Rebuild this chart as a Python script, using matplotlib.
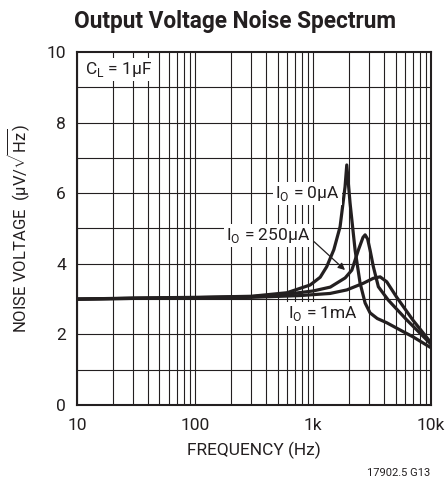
import matplotlib
matplotlib.use('Agg')
import matplotlib.pyplot as plt
import numpy as np

plt.rcParams['font.family'] = ['Roboto', 'DejaVu Sans']
plt.rcParams['mathtext.fontset'] = 'custom'
plt.rcParams['mathtext.rm'] = 'Roboto'

# I_O = 0uA
f_0ua = [10, 30, 100, 300, 600, 945, 1150, 1306, 1500, 1694, 1866, 1930, 2058, 2270, 2500, 2760, 3040, 3500, 4210, 5500, 7030, 10000]
v_0ua = [3.0, 3.03, 3.05, 3.08, 3.18, 3.4, 3.62, 3.92, 4.4, 5.05, 6.18, 6.8, 5.72, 4.39, 3.46, 2.89, 2.61, 2.45, 2.33, 2.12, 1.93, 1.62]

# I_O = 250uA
f_250ua = [10, 30, 100, 300, 600, 1000, 1400, 1870, 2130, 2420, 2650, 2760, 2900, 3040, 3240, 3575, 4340, 6220, 10000]
v_250ua = [3.0, 3.02, 3.04, 3.07, 3.14, 3.23, 3.34, 3.6, 3.82, 4.39, 4.75, 4.82, 4.7, 4.39, 3.92, 3.35, 2.97, 2.41, 1.72]

# I_O = 1mA
f_1ma = [10, 30, 100, 300, 777, 1393, 1930, 2670, 3240, 3700, 4210, 5120, 7030, 10000]
v_1ma = [3.0, 3.02, 3.03, 3.05, 3.1, 3.16, 3.26, 3.45, 3.59, 3.63, 3.49, 3.05, 2.4, 1.76]

xticks = [10, 100, 1000, 10000]
xticklabels = ['10', '100', '1k', '10k']
yticks = [0, 2, 4, 6, 8, 10]

ink = '#231f20'

fig = plt.figure(figsize=(4.46, 4.84), dpi=100)
ax = fig.add_axes([0.1726, 0.1632, 0.794, 0.7294])

# grid
for dec in [10, 100, 1000]:
    for m in range(1, 10):
        ax.axvline(dec * m, color=ink, lw=0.8, zorder=1)
for yv in range(1, 10):
    ax.axhline(yv, color=ink, lw=0.8, zorder=1)

for f, v in [(f_0ua, v_0ua), (f_250ua, v_250ua), (f_1ma, v_1ma)]:
    ax.plot(f, v, color=ink, lw=2.3, solid_joinstyle='round', solid_capstyle='butt', zorder=3)

ax.set_xscale('log')
ax.set_xlim(10, 10000)
ax.set_ylim(0, 10)
ax.set_xticks(xticks)
ax.set_xticklabels(xticklabels)
ax.set_yticks(yticks)
ax.minorticks_off()
ax.tick_params(length=0, labelsize=12.5, colors=ink)
ax.tick_params(axis='x', pad=9)
ax.tick_params(axis='y', pad=8)
for s in ax.spines.values():
    s.set_linewidth(1.5)
    s.set_color(ink)

box = dict(fc='white', ec='none', pad=1.5)
ax.text(11.8, 9.5, r'C$_\mathregular{L}$ = 1$\mathregular{\mu}$F', fontsize=12.5, color=ink,
        va='center', ha='left', bbox=box, zorder=4)
ax.text(900, 6.0, r'I$_\mathregular{O}$ = 0$\mathregular{\mu}$A', fontsize=12.5, color=ink,
        va='center', ha='center', bbox=box, zorder=4)
ax.text(416, 4.8, r'I$_\mathregular{O}$ = 250$\mathregular{\mu}$A', fontsize=12.5, color=ink,
        va='center', ha='center', bbox=box, zorder=4)
ax.text(1220, 2.58, r'I$_\mathregular{O}$ = 1mA', fontsize=12.5, color=ink,
        va='center', ha='center', bbox=box, zorder=4)
ax.annotate('', xy=(1940, 3.77), xytext=(980, 4.68),
            arrowprops=dict(arrowstyle='-|>', color=ink, lw=0.9, mutation_scale=10), zorder=4)

ax.set_xlabel('FREQUENCY (Hz)', fontsize=12.5, color=ink, labelpad=7)
ax.set_ylabel(r'NOISE VOLTAGE  ($\mathregular{\mu}$V/$\sqrt{\mathregular{Hz}}$)', fontsize=12, color=ink, labelpad=10)

fig.text(0.527, 0.955, 'Output Voltage Noise Spectrum', fontsize=16.3, fontweight='bold',
         ha='center', va='center', color=ink)
fig.text(0.965, 0.023, '17902.5 G13', fontsize=8, ha='right', va='center', color=ink)

fig.savefig('out.png', dpi=100)
